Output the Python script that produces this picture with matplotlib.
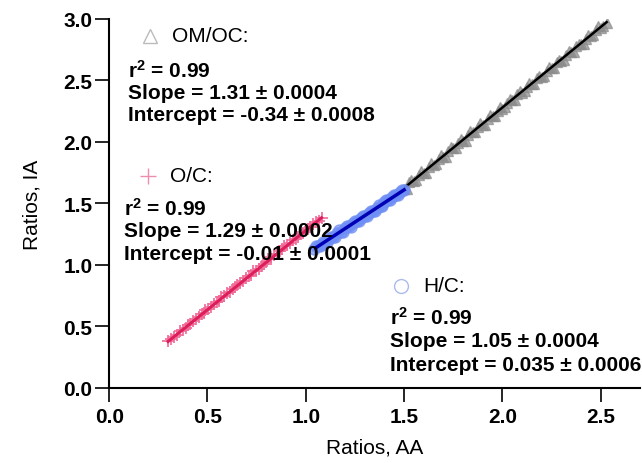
import matplotlib
matplotlib.use("Agg")
import matplotlib.pyplot as plt

plt.rcParams['font.family'] = ['Liberation Sans', 'DejaVu Sans']
plt.rcParams['mathtext.fontset'] = 'custom'
plt.rcParams['mathtext.rm'] = 'Liberation Sans:bold'
plt.rcParams['mathtext.it'] = 'Liberation Sans:bold'
plt.rcParams['mathtext.bf'] = 'Liberation Sans:bold'

# O/C points (AA vs IA)
oc_x = [0.30, 0.315, 0.33, 0.345, 0.36, 0.375, 0.39, 0.40, 0.41, 0.425, 0.44, 0.455,
        0.47, 0.48, 0.49, 0.505, 0.52, 0.535, 0.55, 0.56, 0.57, 0.585, 0.60, 0.615,
        0.63, 0.64, 0.65, 0.665, 0.68, 0.695, 0.71, 0.72, 0.73, 0.745, 0.76, 0.775,
        0.79, 0.80, 0.81, 0.825, 0.84, 0.855, 0.87, 0.88, 0.89, 0.905, 0.92, 0.935,
        0.95, 0.96, 0.97, 0.985, 1.00, 1.01, 1.02, 1.035, 1.05, 1.065, 1.08]
oc_y = [0.38, 0.40, 0.41, 0.43, 0.46, 0.47, 0.49, 0.51, 0.52, 0.54, 0.56, 0.58,
        0.60, 0.61, 0.63, 0.64, 0.66, 0.68, 0.70, 0.71, 0.74, 0.75, 0.77, 0.78,
        0.80, 0.82, 0.84, 0.85, 0.87, 0.89, 0.91, 0.92, 0.95, 0.95, 0.97, 0.99,
        1.01, 1.02, 1.05, 1.05, 1.08, 1.09, 1.11, 1.13, 1.15, 1.16, 1.18, 1.20,
        1.21, 1.23, 1.25, 1.26, 1.28, 1.29, 1.31, 1.33, 1.35, 1.36, 1.38]

# H/C points
hc_x = [1.04, 1.05, 1.06, 1.07, 1.08, 1.09, 1.10, 1.11, 1.12, 1.13, 1.14, 1.15,
        1.16, 1.17, 1.18, 1.19, 1.20, 1.21, 1.22, 1.23, 1.24, 1.25, 1.26, 1.27,
        1.28, 1.29, 1.30, 1.31, 1.32, 1.33, 1.34, 1.35, 1.36, 1.37, 1.38, 1.39,
        1.40, 1.41, 1.42, 1.43, 1.44, 1.45, 1.46, 1.47, 1.48, 1.49, 1.50]
hc_y = [1.13, 1.15, 1.15, 1.15, 1.17, 1.19, 1.19, 1.19, 1.21, 1.23, 1.23, 1.23,
        1.26, 1.28, 1.27, 1.27, 1.30, 1.32, 1.32, 1.31, 1.34, 1.36, 1.36, 1.36,
        1.38, 1.40, 1.40, 1.40, 1.42, 1.44, 1.44, 1.44, 1.46, 1.49, 1.48, 1.48,
        1.51, 1.53, 1.53, 1.53, 1.55, 1.57, 1.57, 1.57, 1.59, 1.61, 1.61]

# OM/OC points
om_x = [1.500, 1.5125, 1.525, 1.5375, 1.550, 1.5625, 1.575, 1.5875, 1.600, 1.6125,
        1.625, 1.6375, 1.650, 1.6625, 1.675, 1.6875, 1.700, 1.7125, 1.725, 1.7375,
        1.750, 1.7625, 1.775, 1.7875, 1.800, 1.8125, 1.825, 1.8375, 1.850, 1.8625,
        1.875, 1.8875, 1.900, 1.9125, 1.925, 1.9375, 1.950, 1.9625, 1.975, 1.9875,
        2.000, 2.0125, 2.025, 2.0375, 2.050, 2.0625, 2.075, 2.0875, 2.100, 2.1125,
        2.125, 2.1375, 2.150, 2.1625, 2.175, 2.1875, 2.200, 2.2125, 2.225, 2.2375,
        2.250, 2.2625, 2.275, 2.2875, 2.300, 2.3125, 2.325, 2.3375, 2.350, 2.3625,
        2.375, 2.3875, 2.400, 2.4125, 2.425, 2.4375, 2.450, 2.4625, 2.475, 2.4875,
        2.500, 2.5125, 2.530]
om_y = [1.62, 1.62, 1.67, 1.69, 1.68, 1.69, 1.73, 1.76, 1.75, 1.75,
        1.80, 1.83, 1.81, 1.82, 1.86, 1.89, 1.88, 1.88, 1.93, 1.96,
        1.95, 1.95, 1.99, 2.02, 2.01, 2.01, 2.06, 2.09, 2.08, 2.08,
        2.12, 2.15, 2.14, 2.14, 2.19, 2.22, 2.21, 2.21, 2.25, 2.28,
        2.27, 2.28, 2.32, 2.35, 2.34, 2.34, 2.39, 2.41, 2.40, 2.41,
        2.45, 2.48, 2.47, 2.47, 2.52, 2.54, 2.53, 2.54, 2.58, 2.61,
        2.60, 2.60, 2.65, 2.67, 2.66, 2.67, 2.71, 2.74, 2.73, 2.73,
        2.78, 2.80, 2.80, 2.80, 2.84, 2.87, 2.86, 2.87, 2.91, 2.94,
        2.93, 2.94, 2.97]

# fit lines (end points)
fit_oc_x, fit_oc_y = [0.30, 1.08], [0.377, 1.383]
fit_hc_x, fit_hc_y = [1.05, 1.50], [1.138, 1.610]
fit_om_x, fit_om_y = [1.50, 2.53], [1.625, 2.974]

x_ticks = [0.0, 0.5, 1.0, 1.5, 2.0, 2.5]
y_ticks = [0.0, 0.5, 1.0, 1.5, 2.0, 2.5, 3.0]

fig = plt.figure(figsize=(6.42, 4.64), dpi=100)
ax = fig.add_axes([0.170, 0.162, 0.827, 0.795])

pink = '#f06a98'
crimson = '#dc1e5a'
lblue = '#6f8ff5'
dblue = '#0000b4'
gray = '#8c8c8c'

ax.plot(om_x, om_y, ls='none', marker='^', ms=7, mfc=gray, mec=gray, alpha=0.7)
ax.plot(fit_om_x, fit_om_y, color='black', lw=1.8)
ax.plot(hc_x, hc_y, ls='none', marker='o', ms=8, mfc=lblue, mec=lblue, alpha=0.7)
ax.plot(fit_hc_x, fit_hc_y, color=dblue, lw=2.5)
ax.plot(oc_x, oc_y, ls='none', marker='+', ms=8, mew=1.2, color=pink)
ax.plot(fit_oc_x, fit_oc_y, color=crimson, lw=2.2)

ax.set_xlim(0, 2.7)
ax.set_ylim(0, 3.0)
ax.set_xticks(x_ticks)
ax.set_yticks(y_ticks)
ax.set_xticklabels([f'{v:.1f}' for v in x_ticks], fontsize=15, fontweight='bold')
ax.set_yticklabels([f'{v:.1f}' for v in y_ticks], fontsize=15, fontweight='bold')
ax.tick_params(direction='out', length=10, width=1.2)
ax.tick_params(axis='y', pad=2)
ax.tick_params(axis='x', pad=4)
for s in ['top', 'right']:
    ax.spines[s].set_visible(False)
for s in ['left', 'bottom']:
    ax.spines[s].set_linewidth(1.5)
ax.set_xlabel('Ratios, AA', fontsize=15, labelpad=8)
ax.set_ylabel('Ratios, IA', fontsize=15, labelpad=16)

fs = 15
# annotation blocks: symbol, title, lines
ax.plot([0.209], [2.862], marker='^', ms=10, mfc='white', mec='#bbbbbb', clip_on=False)
ax.text(0.32, 2.862, 'OM/OC:', fontsize=fs, va='center')
ax.text(0.097, 2.53, 'r$^{2}$ = 0.99', fontsize=fs, fontweight='bold', va='baseline')
ax.text(0.097, 2.40, 'Slope = 1.31 \u00b1 0.0004', fontsize=fs, fontweight='bold', va='center')
ax.text(0.097, 2.22, 'Intercept = -0.34 \u00b1 0.0008', fontsize=fs, fontweight='bold', va='center')

ax.plot([0.198], [1.724], marker='+', ms=11, mew=1, color='#f08cb0', clip_on=False)
ax.text(0.31, 1.724, 'O/C:', fontsize=fs, va='center')
ax.text(0.076, 1.41, 'r$^{2}$ = 0.99', fontsize=fs, fontweight='bold', va='baseline')
ax.text(0.076, 1.276, 'Slope = 1.29 \u00b1 0.0002', fontsize=fs, fontweight='bold', va='center')
ax.text(0.076, 1.089, 'Intercept = -0.01 \u00b1 0.0001', fontsize=fs, fontweight='bold', va='center')

ax.plot([1.485], [0.829], marker='o', ms=10, mfc='white', mec='#aabbee', clip_on=False)
ax.text(1.597, 0.829, 'H/C:', fontsize=fs, va='center')
ax.text(1.43, 0.517, 'r$^{2}$ = 0.99', fontsize=fs, fontweight='bold', va='baseline')
ax.text(1.43, 0.382, 'Slope = 1.05 \u00b1 0.0004', fontsize=fs, fontweight='bold', va='center')
ax.text(1.43, 0.187, 'Intercept = 0.035 \u00b1 0.0006', fontsize=fs, fontweight='bold', va='center')

fig.savefig('out.png', dpi=100)
